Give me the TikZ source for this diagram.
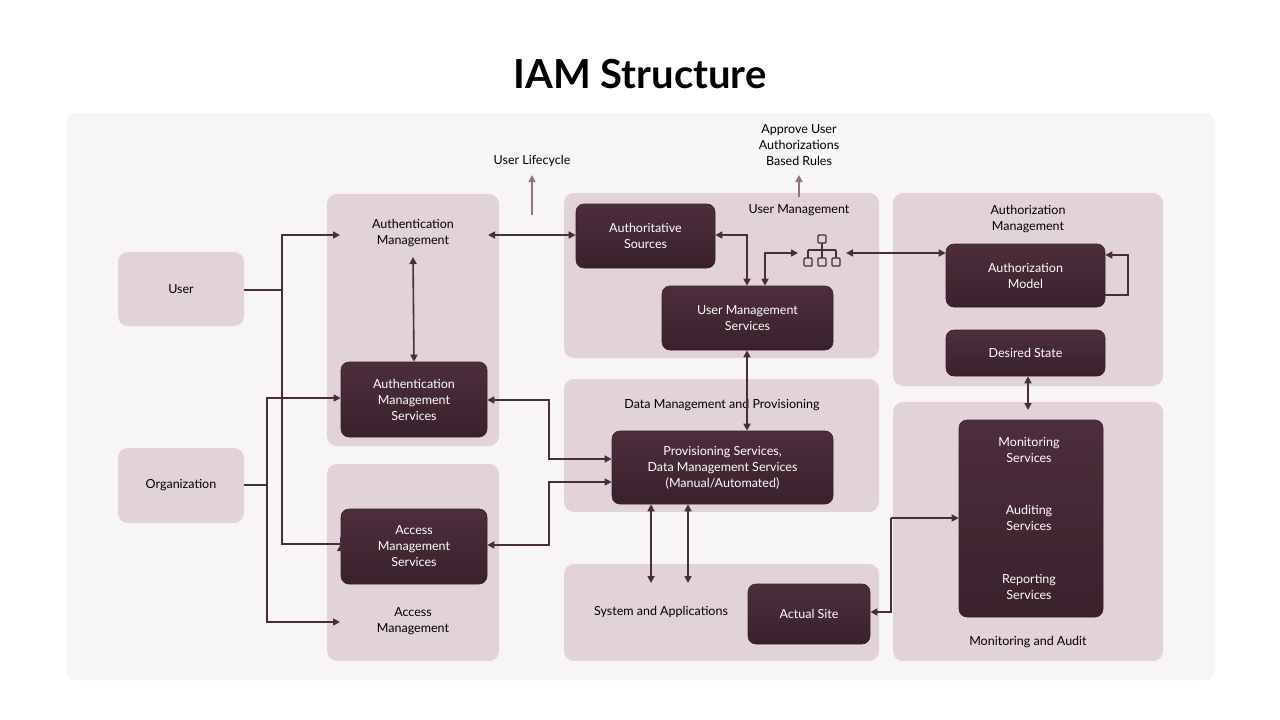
\documentclass[tikz,border=0pt]{standalone}
\usepackage{fontspec}
\setmainfont{Lato}
\usetikzlibrary{arrows.meta}
\definecolor{panel}{HTML}{F8F5F6}
\definecolor{grp}{HTML}{E2D3D9}
\definecolor{dtop}{HTML}{4E2E3C}
\definecolor{dbot}{HTML}{39212C}
\definecolor{ln}{HTML}{4A2D3A}
\definecolor{gr}{HTML}{8E7480}
\begin{document}
\begin{tikzpicture}[x=1pt,y=-1pt,
 grpbox/.style={fill=grp,rounded corners=10pt},
 dk/.style={draw=dtop!70!black,line width=0.6pt,top color=dtop,bottom color=dbot,rounded corners=8pt,text=white,align=center,font=\fontsize{12.5}{16}\selectfont},
 lb/.style={align=center,font=\fontsize{12.5}{16}\selectfont,text=black},
 ar/.style={draw=ln,line width=1.6pt,-{Triangle[length=7pt,width=7pt]}},
 dar/.style={draw=ln,line width=1.6pt,{Triangle[length=7pt,width=7pt]}-{Triangle[length=7pt,width=7pt]}},
 ln/.style={draw=ln,line width=1.6pt},
 gar/.style={draw=gr,line width=1.6pt,-{Triangle[length=7pt,width=7pt]}}]
\useasboundingbox (0,0) rectangle (1280,720);
\fill[white] (0,0) rectangle (1280,720);
\node[font=\fontsize{40}{44}\selectfont\bfseries] (title) at (640,74) {IAM Structure};
\fill[panel,rounded corners=10pt] (66,113) rectangle (1215,680);
% groups
\path[grpbox] (118,252) rectangle (244,326);
\node[lb] (user) at (181,289) {User};
\path[grpbox] (118,448) rectangle (244,523);
\node[lb] (org) at (181,485) {Organization};
\path[grpbox] (327,194) rectangle (499,446);
\path[grpbox] (327,464) rectangle (499,661);
\path[grpbox] (564,193) rectangle (879,358);
\path[grpbox] (564,379) rectangle (879,512);
\path[grpbox] (564,564) rectangle (879,661);
\path[grpbox] (893,193) rectangle (1163,386);
\path[grpbox] (893,402) rectangle (1163,661);
% labels
\node[lb] (authm) at (413,233) {Authentication\\Management};
\node[lb] (accm) at (413,621) {Access\\Management};
\node[lb] (umg) at (799,210) {User Management};
\node[lb] (dmp) at (722,405) {Data Management and Provisioning};
\node[lb] (sys) at (661,612) {System and Applications};
\node[lb] (azm) at (1028,219) {Authorization\\Management};
\node[lb] (mna) at (1028,642) {Monitoring and Audit};
\node[lb] (ulc) at (532,161) {User Lifecycle};
\node[lb] (apr) at (799,145) {Approve User\\Authorizations\\Based Rules};
% dark nodes
\node[dk,minimum width=139pt,minimum height=64pt] (as) at (645.5,236) {Authoritative\\Sources};
\node[dk,minimum width=171pt,minimum height=64pt] (ums) at (747.5,318) {User Management\\Services};
\node[dk,minimum width=146pt,minimum height=75pt] (ams) at (414,399.5) {Authentication\\Management\\Services};
\node[dk,minimum width=146pt,minimum height=75pt] (acs) at (414,546.5) {Access\\Management\\Services};
\node[dk,minimum width=221pt,minimum height=73pt] (prov) at (722.5,467.5) {Provisioning Services,\\Data Management Services\\(Manual/Automated)};
\node[dk,minimum width=122pt,minimum height=60pt] (site) at (809,614) {Actual Site};
\node[dk,minimum width=159pt,minimum height=63pt] (azmod) at (1025.5,275.5) {Authorization\\Model};
\node[dk,minimum width=159pt,minimum height=46pt] (des) at (1025.5,353) {Desired State};
\node[dk,minimum width=144pt,minimum height=197pt] (mon) at (1031,518.5) {};
\node[text=white,align=center,font=\fontsize{12.5}{16}\selectfont] (mon1) at (1029,450) {Monitoring\\Services};
\node[text=white,align=center,font=\fontsize{12.5}{16}\selectfont] (mon2) at (1029,518) {Auditing\\Services};
\node[text=white,align=center,font=\fontsize{12.5}{16}\selectfont] (mon3) at (1029,587) {Reporting\\Services};
% hierarchy icon
\coordinate (ico) at (822,252);
\begin{scope}[draw=ln,line width=1.4pt]
\draw[rounded corners=1pt] (818,235) rectangle (826,243);
\draw (822,243) -- (822,250) (808,250) -- (836,250) (808,250) -- (808,258) (822,250)--(822,258) (836,250)--(836,258);
\draw[rounded corners=1pt] (804,258) rectangle (812,266) (818,258) rectangle (826,266) (832,258) rectangle (840,266);
\end{scope}
\coordinate (iconL) at (798,253);
\coordinate (iconR) at (846,253);
% connectors
\draw[ln] (user.east|-0,290) ++(63,0) -- (282,290);
\draw[ln] (244,290) -- (282,290);
\draw[ar] (282,290) |- (340,235);
\draw[ar] (282,290) |- (ams.west|-0,544) -- (acs.west|-0,544);
\draw[ln] (244,485) -- (267,485);
\draw[ar] (267,485) |- (ams.west|-0,398);
\draw[ar] (267,485) |- (340,622);
\draw[dar] (413,257) -- (ams.north);
\draw[dar] (488,235) -- (as.west|-0,235);
\draw[dar] (as.east|-0,235) -| (ums.north-|747,0);
\draw[dar] (iconL) -| (ums.north-|765,0);
\draw[dar] (iconR) -- (azmod.west|-0,253);
\draw[ar] (azmod.east|-0,295) -- (1128,295) |- (azmod.east|-0,255);
\draw[dar] (ums.south-|747,0) -- (prov.north-|747,0);
\draw[dar] (ams.east|-0,400) -| (549,459) -- (prov.west|-0,459);
\draw[dar] (acs.east|-0,545) -| (549,482) -- (prov.west|-0,482);
\draw[dar] (prov.south-|651,0) -- (651,583);
\draw[dar] (prov.south-|688,0) -- (688,583);
\draw[dar] (des.south-|1028,0) -- (1028,410);
\draw[ar] (891,518) -- (mon.west|-0,518);
\draw[ar] (891,518) |- (site.east|-0,612);
\draw[gar] (532,215) -- (532,175);
\draw[gar] (799,197) -- (799,175);
\end{tikzpicture}
\end{document}
